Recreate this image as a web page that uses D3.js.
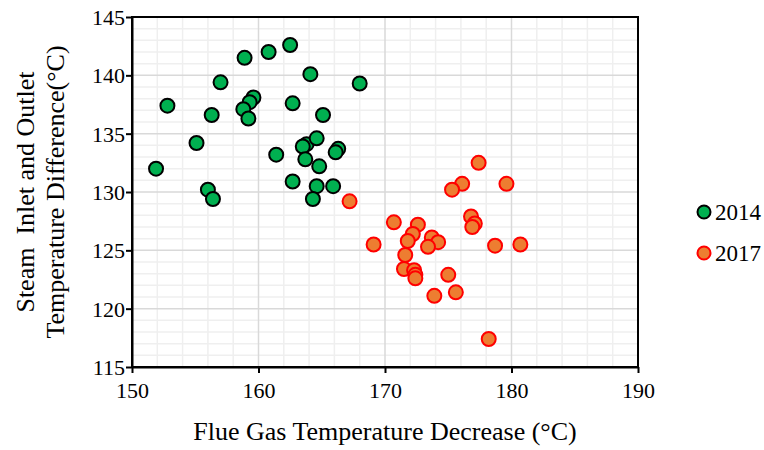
<!DOCTYPE html>
<html>
<head>
<meta charset="utf-8">
<script src="https://cdn.jsdelivr.net/npm/d3@7"></script>
<style>
  body { margin: 0; background: #fff; }
  text { font-family: "Liberation Serif", "Times New Roman", serif; fill: #000; }
</style>
</head>
<body>
<div id="chart"></div>
<script>
// 2014 series
let x2014 = [162.5, 160.8, 158.9, 164.1, 157.0, 152.8, 156.3, 159.6, 159.3, 158.8,
             159.2, 162.7, 165.1, 155.1, 163.8, 163.5, 164.6, 161.4, 163.7, 164.8,
             151.9, 162.7, 164.6, 156.0, 156.4, 164.3, 165.9, 166.3, 166.1, 168.0];
let y2014 = [142.6, 142.0, 141.5, 140.1, 139.4, 137.4, 136.6, 138.1, 137.7, 137.1,
             136.3, 137.6, 136.6, 134.2, 134.1, 133.9, 134.6, 133.2, 132.8, 132.2,
             132.0, 130.9, 130.5, 130.2, 129.4, 129.4, 130.5, 133.7, 133.4, 139.3];

// 2017 series
let x2017 = [177.4, 176.1, 175.3, 179.6, 167.2, 170.7, 172.6, 176.8, 177.1, 176.9,
             172.2, 171.8, 173.7, 174.2, 173.4, 169.1, 178.7, 180.7, 171.6, 171.5,
             172.3, 172.4, 172.4, 175.0, 173.9, 175.6, 178.2];
let y2017 = [132.5, 130.7, 130.2, 130.7, 129.2, 127.4, 127.2, 127.9, 127.3, 127.0,
             126.4, 125.8, 126.1, 125.7, 125.3, 125.5, 125.4, 125.5, 124.6, 123.4,
             123.3, 122.9, 122.6, 122.9, 121.1, 121.4, 117.4];

let seriesNames = ["2014", "2017"];
let xTicks = [150, 160, 170, 180, 190];
let yTicks = [115, 120, 125, 130, 135, 140, 145];

let margin = {top: 17, right: 126, bottom: 83, left: 132},
    width = 764 - margin.left - margin.right,
    height = 450 - margin.top - margin.bottom;

let svg = d3.select("#chart").append("svg")
    .attr("width", 764)
    .attr("height", 450);

let g = svg.append("g")
    .attr("transform", "translate(" + margin.left + "," + margin.top + ")");

let x = d3.scaleLinear().domain([150, 190]).range([0, width]);
let y = d3.scaleLinear().domain([115, 145]).range([height, 0]);

// minor grid
g.append("g").selectAll("line")
    .data(d3.range(152, 190, 2).filter(function(d) { return d % 10 !== 0; }))
    .enter().append("line")
    .attr("x1", function(d) { return x(d); })
    .attr("x2", function(d) { return x(d); })
    .attr("y1", 0).attr("y2", height)
    .attr("stroke", "#efefef").attr("stroke-width", 1.5);

g.append("g").selectAll("line")
    .data(d3.range(116, 145, 1).filter(function(d) { return d % 5 !== 0; }))
    .enter().append("line")
    .attr("y1", function(d) { return y(d); })
    .attr("y2", function(d) { return y(d); })
    .attr("x1", 0).attr("x2", width)
    .attr("stroke", "#efefef").attr("stroke-width", 1.5);

// major grid
g.append("g").selectAll("line")
    .data(xTicks.slice(1, -1))
    .enter().append("line")
    .attr("x1", function(d) { return x(d); })
    .attr("x2", function(d) { return x(d); })
    .attr("y1", 0).attr("y2", height)
    .attr("stroke", "#d9d9d9").attr("stroke-width", 1.5);

g.append("g").selectAll("line")
    .data(yTicks.slice(1, -1))
    .enter().append("line")
    .attr("y1", function(d) { return y(d); })
    .attr("y2", function(d) { return y(d); })
    .attr("x1", 0).attr("x2", width)
    .attr("stroke", "#d9d9d9").attr("stroke-width", 1.5);

// border
g.append("rect")
    .attr("width", width).attr("height", height)
    .attr("fill", "none").attr("stroke", "#000").attr("stroke-width", 2);

// axes
let xAxis = g.append("g")
    .attr("transform", "translate(0," + height + ")")
    .call(d3.axisBottom(x).tickValues(xTicks).tickSize(6).tickSizeOuter(0));
let yAxis = g.append("g")
    .call(d3.axisLeft(y).tickValues(yTicks).tickSize(6).tickSizeOuter(0));

[xAxis, yAxis].forEach(function(a) {
    a.select(".domain").attr("stroke", "#000").attr("stroke-width", 2);
    a.selectAll(".tick line").attr("stroke", "#000").attr("stroke-width", 2);
    a.selectAll(".tick text")
        .style("font-family", "'Liberation Serif', serif")
        .style("font-size", "22px")
        .attr("fill", "#000");
});
xAxis.selectAll(".tick text").attr("y", 31).attr("dy", 0);
yAxis.selectAll(".tick text").attr("x", -7).attr("dy", "0.34em");

// points
let data2014 = x2014.map(function(d, i) { return {x: d, y: y2014[i]}; });
let data2017 = x2017.map(function(d, i) { return {x: d, y: y2017[i]}; });

let styles = [
    {fill: "#00b050", stroke: "#000000"},
    {fill: "#ed7d31", stroke: "#ff0000"}
];

[data2014, data2017].forEach(function(data, k) {
    g.append("g").selectAll("circle")
        .data(data)
        .enter().append("circle")
        .attr("cx", function(d) { return x(d.x); })
        .attr("cy", function(d) { return y(d.y); })
        .attr("r", 7)
        .attr("fill", styles[k].fill)
        .attr("stroke", styles[k].stroke)
        .attr("stroke-width", 2);
});

// axis titles
svg.append("text")
    .attr("x", 385)
    .attr("y", 440)
    .attr("text-anchor", "middle")
    .style("font-size", "26px")
    .text("Flue Gas Temperature Decrease (°C)");

let yTitle = svg.append("text")
    .attr("transform", "translate(34," + (margin.top + height / 2) + ") rotate(-90)")
    .attr("text-anchor", "middle")
    .style("font-size", "26px")
    .style("white-space", "pre");
yTitle.append("tspan").attr("x", 0).attr("dy", 0).text("Steam  Inlet and Outlet");
yTitle.append("tspan").attr("x", 0).attr("dy", 30).text("Temperature Difference(°C)");

// legend
let legend = svg.append("g");
seriesNames.forEach(function(name, k) {
    let ly = 212 + k * 41;
    legend.append("circle")
        .attr("cx", 704).attr("cy", ly)
        .attr("r", 6.5)
        .attr("fill", styles[k].fill)
        .attr("stroke", styles[k].stroke)
        .attr("stroke-width", 2);
    legend.append("text")
        .attr("x", 715).attr("y", ly + 8)
        .style("font-size", "23px")
        .text(name);
});
</script>
</body>
</html>
